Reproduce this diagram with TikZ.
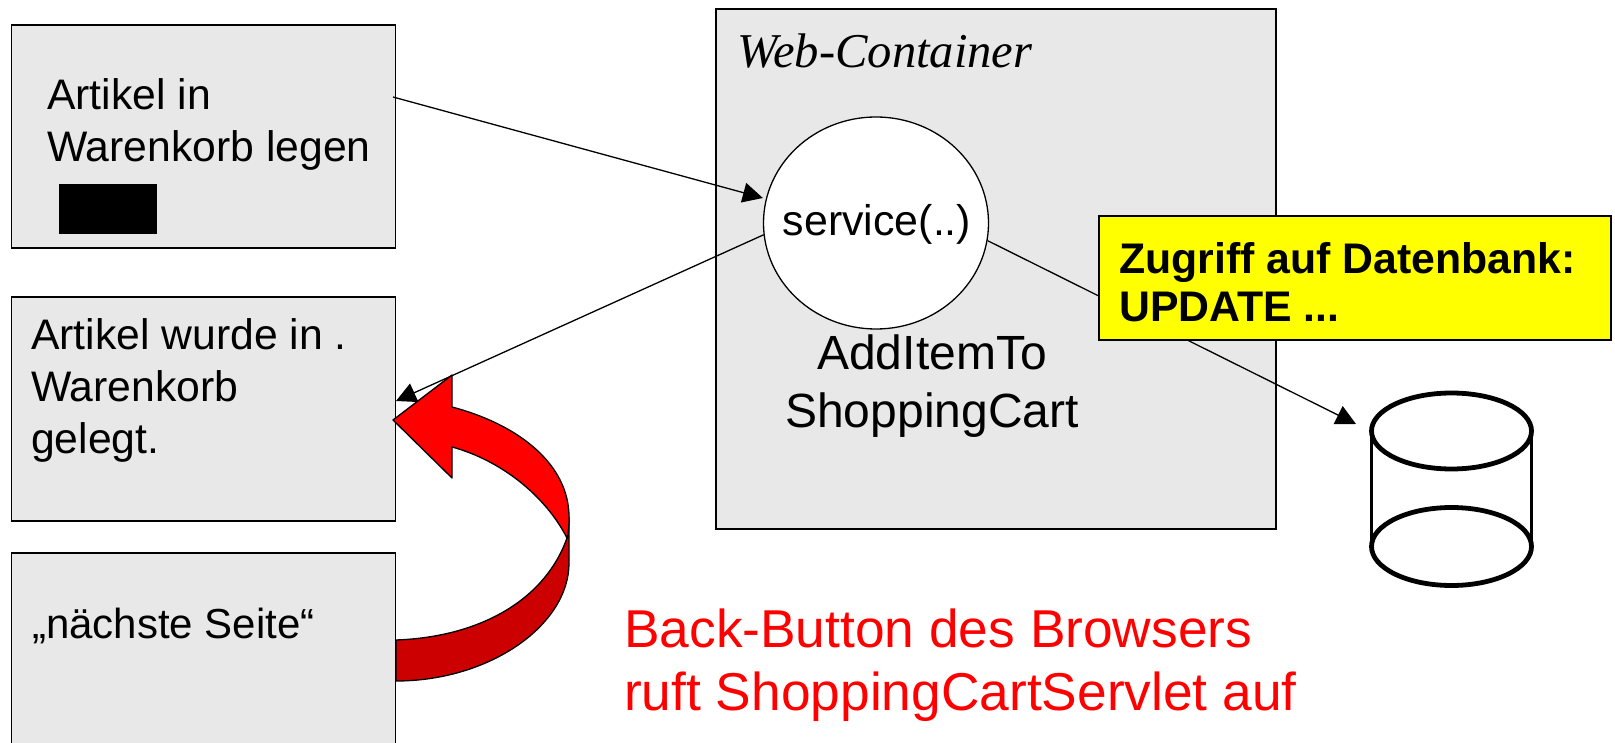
\documentclass[tikz,border=0pt]{standalone}
\usepackage{fontspec}
\setmainfont{Liberation Sans}
\newfontfamily\serifit[ItalicFont=Liberation Serif Italic]{Liberation Serif}
\usetikzlibrary{arrows.meta,shapes.geometric}
\definecolor{boxgray}{HTML}{E8E8E8}
\definecolor{darkred}{HTML}{CC0000}
\definecolor{noteyellow}{HTML}{FFFF00}
\tikzset{
  x=1pt,y=-1pt,
  page/.style={draw=black,line width=1.3pt,fill=boxgray,inner sep=0pt,rectangle},
  label/.style={anchor=west,align=left,font=\fontsize{42.7}{52}\selectfont,inner sep=0pt},
  flow/.style={draw=black,line width=1.3pt,-{Triangle[length=20pt,width=20pt]}},
  dbline/.style={draw=black,line width=4.8pt,outer sep=0pt},
  curved/.style={draw=black,line width=1.3pt,line join=round}
}
\begin{document}
\begin{tikzpicture}
\useasboundingbox (0,0) rectangle (1615,743);
\fill[white] (0,0) rectangle (1615,743);
% pages
\node[page,minimum width=384pt,minimum height=223pt] (p1) at (203.5,136.5) {};
\node[page,minimum width=384pt,minimum height=224pt] (p2) at (203.5,409) {};
\node[page,minimum width=384pt,minimum height=220pt] (p3) at (203.5,663) {};
\node[page,minimum width=560pt,minimum height=520pt] (wc) at (996,269) {};
\node[label] (t1) at (47,124) {Artikel in\\Warenkorb legen};
\node[fill=black,inner sep=0pt,minimum width=98pt,minimum height=50pt] (btn) at (107.5,209) {};
\node[label] (t2) at (31,390) {Artikel wurde in .\\Warenkorb\\gelegt.};
\node[label,font=\fontsize{42}{52}\selectfont] (t3) at (32,626) {„nächste Seite“};
\node[label,font=\fontsize{48.6}{51}\serifit\itshape] (wct) at (737,51) {Web-Container};
% service
\node[draw=black,line width=1.3pt,fill=white,ellipse,inner sep=0pt,minimum width=225pt,minimum height=212pt] (svc) at (876,223) {};
\node[font=\fontsize{42.9}{51}\selectfont,inner sep=0pt] (svct) at (877,224) {service(..)};
\node[font=\fontsize{48}{58}\selectfont,align=center,inner sep=0pt] (cart) at (932,386) {AddItemTo\\ShoppingCart};
% cylinder
\node[dbline,ellipse,inner sep=0pt,minimum width=160pt,minimum height=76pt,fill=white] (dbtop) at (1451.5,431) {};
\node[dbline,ellipse,inner sep=0pt,minimum width=160pt,minimum height=78pt,fill=white] (dbbot) at (1451.5,546.5) {};
\draw[draw=black,line width=2.2pt] (dbtop.west) -- (dbbot.west);
\draw[draw=black,line width=2.2pt] (dbtop.east) -- (dbbot.east);
% connectors
\coordinate (a1) at (393,97);
\coordinate (a2) at (396,401);
\coordinate (a3) at (1356,424);
\draw[flow] (a1) -- (svc.west |- 0,198);
\draw[flow] (svc.186) -- (a2);
\draw[flow] (svc.-9) -- (a3);
% note
\node[draw=black,line width=1.3pt,fill=noteyellow,inner sep=0pt,minimum width=512pt,minimum height=124pt] (note) at (1355,278) {};
\node[anchor=west,align=left,inner sep=0pt,font=\fontsize{42.8}{48.5}\selectfont\bfseries] (notet) at (1119,282) {Zugriff auf Datenbank:\\UPDATE ...};
% curved arrow
\draw[curved,fill=darkred] (396,640) .. controls (480,637) and (545,600) .. (567,538)
  .. controls (569,530) and (569,525) .. (569,517) -- (569,563)
  .. controls (569,625) and (490,681) .. (396,681) -- cycle;
\draw[curved,fill=red] (393,420) -- (452,375) -- (452,407)
  .. controls (520,425) and (569,465) .. (569,517)
  .. controls (569,525) and (569,530) .. (567,538)
  .. controls (545,495) and (500,460) .. (452,447) -- (452,478) -- cycle;
% red text
\node[anchor=west,align=left,inner sep=0pt,text=red,font=\fontsize{53.3}{63}\selectfont] (back) at (624,665) {Back-Button des Browsers\\ruft ShoppingCartServlet auf};
\end{tikzpicture}
\end{document}
